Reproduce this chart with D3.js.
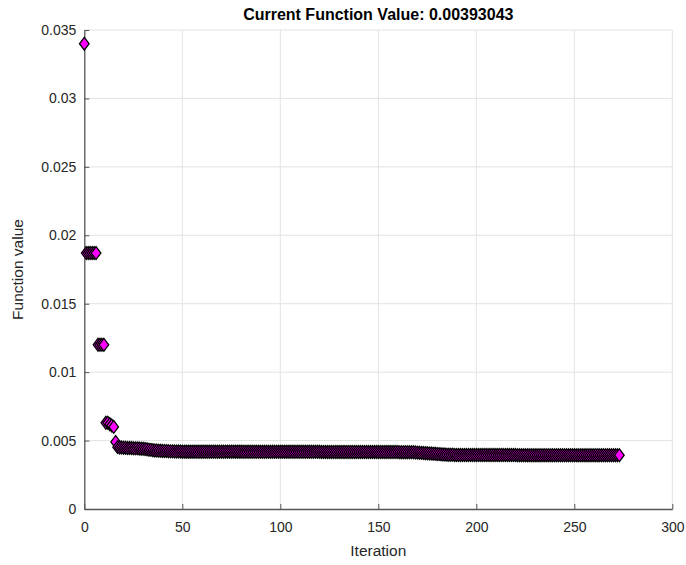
<!DOCTYPE html>
<html>
<head>
<meta charset="utf-8">
<script src="https://cdn.jsdelivr.net/npm/d3@7"></script>
<style>
  html, body { margin: 0; padding: 0; background: #fff; }
  svg { display: block; font-family: "Liberation Sans", Arial, Helvetica, sans-serif; }
</style>
</head>
<body>
<svg id="chart" width="686" height="565"></svg>
<script>
// Objective value recorded at each optimizer iteration (index = iteration number)
const finalValue = 0.00393043;
const fvalStart = [0.0340];
const fvalStage1 = [0.0187, 0.0187, 0.0187, 0.0187, 0.0187, 0.0187];
const fvalStage2 = [0.0120, 0.0120, 0.0120, 0.0120];
const fvalStage3 = [0.0063, 0.0063, 0.0062, 0.0061, 0.0060, 0.0049];
const fvalEarly = [
  0.00452, 0.00450, 0.00449, 0.00448, 0.00447, 0.00446, 0.00445, 0.00445, 0.00444, 0.00443,
  0.00443, 0.00442, 0.00441, 0.00440,
  0.00438, 0.00436, 0.00433, 0.00432, 0.00430, 0.00428, 0.00427, 0.00426, 0.00425, 0.00424
];
const fvalMiddle = [
  0.00424, 0.00423, 0.00422, 0.00421, 0.00421, 0.00420, 0.00420, 0.00420, 0.00420, 0.00419,
  0.00419, 0.00419, 0.00419, 0.00419, 0.00419, 0.00419, 0.00419, 0.00419, 0.00419, 0.00419,
  0.00419, 0.00419, 0.00419, 0.00419, 0.00419, 0.00419, 0.00419, 0.00419, 0.00419, 0.00419,
  0.00419, 0.00419, 0.00419, 0.00419, 0.00419, 0.00419, 0.00419, 0.00419, 0.00419, 0.00419,
  0.00418, 0.00418, 0.00418, 0.00418, 0.00418, 0.00418, 0.00418, 0.00418, 0.00418, 0.00418,
  0.00418, 0.00418, 0.00418, 0.00418, 0.00418, 0.00418, 0.00418, 0.00418, 0.00418, 0.00418,
  0.00418, 0.00418, 0.00418, 0.00418, 0.00418, 0.00418, 0.00418, 0.00418, 0.00418, 0.00418,
  0.00418, 0.00418, 0.00418, 0.00418, 0.00418, 0.00418, 0.00418, 0.00418, 0.00418, 0.00418,
  0.00417, 0.00417, 0.00417, 0.00417, 0.00417, 0.00417, 0.00417, 0.00417, 0.00417, 0.00417,
  0.00417, 0.00417, 0.00417, 0.00417, 0.00417, 0.00417, 0.00417, 0.00417, 0.00417, 0.00417,
  0.00417, 0.00417, 0.00417, 0.00417, 0.00417, 0.00417, 0.00417, 0.00417, 0.00417, 0.00417,
  0.00416, 0.00416, 0.00416, 0.00416, 0.00416, 0.00416, 0.00416, 0.00416, 0.00416, 0.00416,
  0.00415, 0.00415, 0.00415, 0.00415, 0.00415
];
const fvalDescent = [
  0.00415, 0.00414, 0.00414, 0.00413, 0.00412, 0.00411, 0.00410, 0.00409, 0.00408, 0.00407,
  0.00406, 0.00405, 0.00404, 0.00403, 0.00402, 0.00401, 0.00400, 0.00399, 0.00398, 0.00397,
  0.00397, 0.00396, 0.00396, 0.00395, 0.00395
];
const fvalLate = [
  0.00394, 0.00394, 0.00394, 0.00394, 0.00394, 0.00394, 0.00394, 0.00394, 0.00394, 0.00394,
  0.00394, 0.00394, 0.00394, 0.00394, 0.00394, 0.00394, 0.00394, 0.00394, 0.00394, 0.00394,
  0.00394, 0.00394, 0.00394, 0.00394, 0.00394, 0.00394, 0.00394, 0.00394, 0.00394, 0.00394,
  0.00393, 0.00393, 0.00393, 0.00393, 0.00393, 0.00393, 0.00393, 0.00393, 0.00393, 0.00393,
  0.00393, 0.00393, 0.00393, 0.00393, 0.00393, 0.00393, 0.00393, 0.00393, 0.00393, 0.00393,
  0.00393, 0.00393, 0.00393, 0.00393, 0.00393, 0.00393, 0.00393, 0.00393, 0.00393, 0.00393,
  0.00393, 0.00393, 0.00393, 0.00393, 0.00393, 0.00393, 0.00393, 0.00393, 0.00393, 0.00393,
  0.00393, 0.00393, 0.00393, 0.00393, 0.00393, 0.00393, 0.00393, 0.00393, 0.00393, 0.00393,
  0.00393, 0.00393
];

const xTicks = [0, 50, 100, 150, 200, 250, 300];
const yTicks = [0, 0.005, 0.01, 0.015, 0.02, 0.025, 0.03, 0.035];
const yTickLabels = ["0", "0.005", "0.01", "0.015", "0.02", "0.025", "0.03", "0.035"];
const xDomain = [0, 300];
const yDomain = [0, 0.035];

const fval = [].concat(fvalStart, fvalStage1, fvalStage2, fvalStage3,
                       fvalEarly, fvalMiddle, fvalDescent, fvalLate, [finalValue]);
const points = fval.map((v, i) => ({ iter: i, value: v }));

const svg = d3.select("#chart");
const plot = { left: 84.3, right: 672.3, top: 30, bottom: 509 };
const textColor = "#262626";

const x = d3.scaleLinear().domain(xDomain).range([plot.left, plot.right]);
const y = d3.scaleLinear().domain(yDomain).range([plot.bottom, plot.top]);

// Grid lines
const grid = svg.append("g").attr("stroke", "#e3e3e3").attr("stroke-width", 1);
grid.selectAll("line.gx").data(xTicks.slice(1)).join("line")
  .attr("x1", d => x(d)).attr("x2", d => x(d))
  .attr("y1", plot.top).attr("y2", plot.bottom);
grid.selectAll("line.gy").data(yTicks.slice(1)).join("line")
  .attr("x1", plot.left).attr("x2", plot.right)
  .attr("y1", d => y(d)).attr("y2", d => y(d));

// Axes (ticks point inward)
const xAxis = d3.axisBottom(x).tickValues(xTicks).tickSizeInner(-5).tickSizeOuter(0).tickPadding(13)
  .tickFormat(d3.format("d"));
const yAxis = d3.axisLeft(y).tickValues(yTicks).tickSizeInner(-5).tickSizeOuter(0).tickPadding(8)
  .tickFormat((d, i) => yTickLabels[i]);

const gx = svg.append("g").attr("transform", `translate(0,${plot.bottom})`).call(xAxis);
const gy = svg.append("g").attr("transform", `translate(${plot.left},0)`).call(yAxis);
[gx, gy].forEach(g => {
  g.select(".domain").attr("stroke", "#555").attr("stroke-width", 1.3);
  g.selectAll(".tick line").attr("stroke", "#555").attr("stroke-width", 1);
  g.selectAll(".tick text").attr("fill", textColor).style("font-size", "14px")
    .style("font-family", "'Liberation Sans', Arial, sans-serif");
});

// Diamond markers
const hw = 4.8, hh = 6.4;
const diamond = `M0,${-hh}L${hw},0L0,${hh}L${-hw},0Z`;
svg.append("g").selectAll("path").data(points).join("path")
  .attr("d", diamond)
  .attr("transform", d => `translate(${x(d.iter)},${y(d.value)})`)
  .attr("fill", "#ff00ff")
  .attr("stroke", "#000")
  .attr("stroke-width", 1.3);

// Title and axis labels
svg.append("text")
  .attr("x", (plot.left + plot.right) / 2).attr("y", 20)
  .attr("text-anchor", "middle")
  .attr("fill", "#000")
  .style("font-size", "16px").style("font-weight", "bold")
  .text("Current Function Value: " + finalValue);

svg.append("text")
  .attr("x", (plot.left + plot.right) / 2).attr("y", 556)
  .attr("text-anchor", "middle")
  .attr("fill", textColor)
  .style("font-size", "15.5px")
  .text("Iteration");

svg.append("text")
  .attr("transform", `translate(23,${(plot.top + plot.bottom) / 2}) rotate(-90)`)
  .attr("text-anchor", "middle")
  .attr("fill", textColor)
  .style("font-size", "15.5px")
  .text("Function value");
</script>
</body>
</html>
